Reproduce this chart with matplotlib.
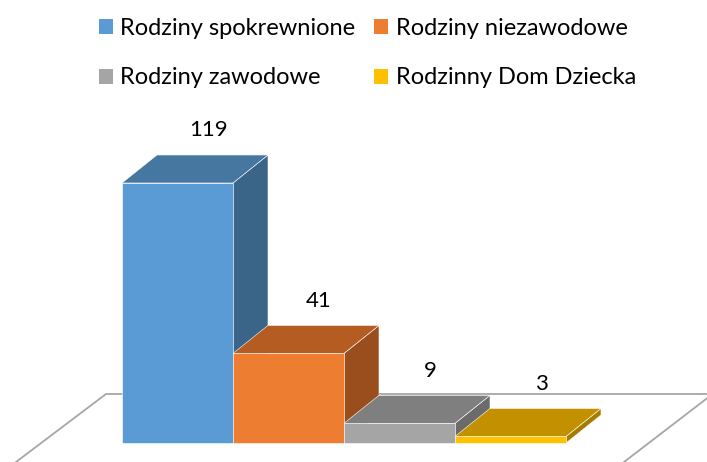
import matplotlib
matplotlib.use("Agg")
import matplotlib.pyplot as plt
from matplotlib.patches import Polygon, Patch
from matplotlib.lines import Line2D

categories = ["Rodziny spokrewnione", "Rodziny niezawodowe",
              "Rodziny zawodowe", "Rodzinny Dom Dziecka"]
values = [119, 41, 9, 3]

# front / top / side shades for each series
front_colors = ["#5b9bd5", "#ed7d31", "#a5a5a5", "#ffc000"]
top_colors = ["#4677a1", "#b45c22", "#7f7f7f", "#c39100"]
side_colors = ["#3a6588", "#9a4e1d", "#6b6b6b", "#a67c00"]

plt.rcParams["font.family"] = ["Lato", "DejaVu Sans"]

W, H = 707, 462
fig = plt.figure(figsize=(W / 100, H / 100), dpi=100)
ax = fig.add_axes([0, 0, 1, 1])

# one category = 111 px wide, one unit of value = 2.185 px tall
px_x, px_y = 111.0, 2.185
x0_px, y0_px = 122.0, 19.0
ax.set_xlim(-x0_px / px_x, (W - x0_px) / px_x)
ax.set_ylim(-y0_px / px_y, (H - y0_px) / px_y)
ax.axis("off")

depth_x = 35 / px_x   # 3d depth offset in data units
depth_y = 28 / px_y


def fx(px):
    return px / W


def fy(py_top):
    return 1 - py_top / H


# floor outline
floor_kw = dict(color="#a6a6a6", lw=1.3, transform=ax.transAxes, zorder=0)
ax.add_line(Line2D([fx(16), fx(106), fx(707)], [fy(462), fy(394), fy(394)], **floor_kw))
ax.add_line(Line2D([fx(624), fx(710)], [fy(462), fy(396)], **floor_kw))

for i, (v, fc, tc, sc) in enumerate(zip(values, front_colors, top_colors, side_colors)):
    x_l, x_r = i, i + 1
    dx, dy = depth_x, depth_y
    side = Polygon([(x_r, 0), (x_r + dx, dy), (x_r + dx, v + dy), (x_r, v)],
                   closed=True, facecolor=sc, edgecolor="white", lw=0.4, zorder=2 + i)
    top = Polygon([(x_l, v), (x_l + dx, v + dy), (x_r + dx, v + dy), (x_r, v)],
                  closed=True, facecolor=tc, edgecolor="white", lw=0.4, zorder=2 + i)
    front = Polygon([(x_l, 0), (x_r, 0), (x_r, v), (x_l, v)],
                    closed=True, facecolor=fc, edgecolor="white", lw=0.4, zorder=2 + i)
    for p in (side, top, front):
        ax.add_patch(p)
    ax.annotate(str(v), xy=(i + 0.5, v), xytext=(22, 38), textcoords="offset points",
                ha="center", va="center", fontsize=16, color="black", zorder=10)

# legend is filled row by row in the reference: reorder for column-major fill
order = [0, 2, 1, 3]
handles = [Patch(facecolor=front_colors[k], edgecolor="none") for k in order]
labels = [categories[k] for k in order]
fig.legend(handles, labels, ncol=2, loc="upper left",
           bbox_to_anchor=(fx(99), fy(18)), frameon=False, fontsize=17,
           handlelength=0.6, handleheight=0.6, handletextpad=0.3,
           columnspacing=0.8, labelspacing=1.2, borderaxespad=0, borderpad=0)

fig.savefig("out.png", dpi=100)
